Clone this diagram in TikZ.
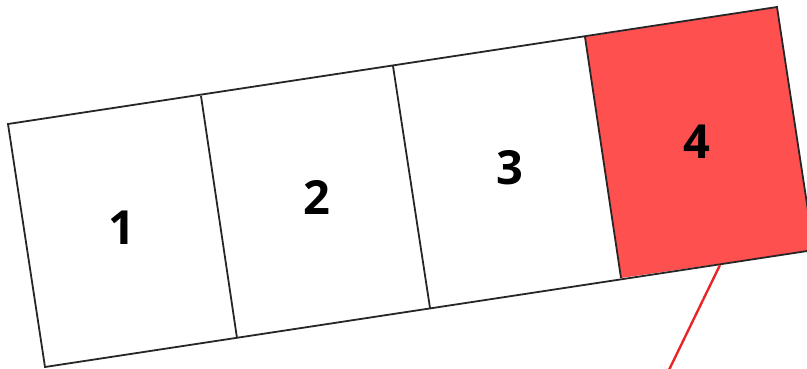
\documentclass[tikz,border=0pt]{standalone}
\usepackage{fontspec}
\setmainfont{Open Sans}
\definecolor{cellred}{HTML}{FF5050}
\definecolor{linered}{HTML}{E8262A}
\begin{document}
\begin{tikzpicture}[x=1pt,y=-1pt,
  cellline/.style={draw=black!85,line width=1.8pt,line join=miter},
  numlabel/.style={font=\bfseries\fontsize{47}{47}\selectfont,text=black,inner sep=0pt}]
\useasboundingbox (0,0) rectangle (807,369);
\clip (0,0) rectangle (807,369);
\coordinate (t0) at (8,124);
\coordinate (t1) at (201,96);
\coordinate (t2) at (393,66);
\coordinate (t3) at (585,37);
\coordinate (t4) at (777,7);
\coordinate (b0) at (45,367);
\coordinate (b1) at (237,338);
\coordinate (b2) at (430,308);
\coordinate (b3) at (621,278);
\coordinate (b4) at (814,250);
\fill[cellred] (t3) -- (t4) -- (b4) -- (b3) -- cycle;
\draw[cellline] (t0) -- (t4) -- (b4) -- (b0) -- cycle;
\draw[cellline] (t1) -- (b1);
\draw[cellline] (t2) -- (b2);
\draw[cellline] (t3) -- (b3);
\node[numlabel] (n1) at (122,228) {1};
\node[numlabel] (n2) at (317,197) {2};
\node[numlabel] (n3) at (510,168) {3};
\node[numlabel] (n4) at (697,142) {4};
\coordinate (p1) at (720,265);
\coordinate (p2) at (668,372);
\draw[linered,line width=2.4pt] (p1) -- (p2);
\end{tikzpicture}
\end{document}
